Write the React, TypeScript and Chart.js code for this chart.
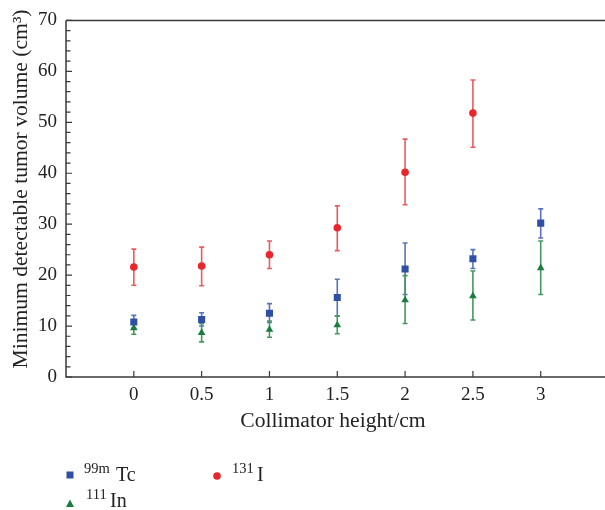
import React, { useEffect, useRef } from "react";
import { Chart, registerables } from "chart.js";

Chart.register(...registerables);

const heights = [0, 0.5, 1, 1.5, 2, 2.5, 3];
const xTickValues = [0, 0.5, 1, 1.5, 2, 2.5, 3];
const yTickValues = [0, 10, 20, 30, 40, 50, 60, 70];
const yTitle = "Minimum detectable tumor volume (cm³)";
const xTitle = "Collimator height/cm";

const tcMean = [10.8, 11.3, 12.5, 15.6, 21.2, 23.2, 30.2];
const tcLow = [9.6, 10.0, 10.7, 12.0, 16.2, 21.3, 27.3];
const tcHigh = [12.1, 12.6, 14.4, 19.2, 26.3, 25.0, 33.0];

const iMean = [21.6, 21.8, 24.0, 29.3, 40.2, 51.8];
const iLow = [18.0, 17.9, 21.3, 24.8, 33.8, 45.1];
const iHigh = [25.1, 25.5, 26.7, 33.6, 46.7, 58.3];

const inMean = [9.6, 8.7, 9.3, 10.2, 15.1, 15.9, 21.4];
const inLow = [8.4, 6.9, 7.8, 8.5, 10.5, 11.2, 16.2];
const inHigh = [10.6, 10.5, 11.0, 12.0, 19.9, 20.8, 26.7];

const BLUE = "#2e4fa3";
const BLUE_BAR = "#5a74bb";
const RED = "#e8262b";
const RED_BAR = "#ee5a5e";
const GREEN = "#1b7c3d";
const GREEN_BAR = "#45995f";
const AXIS = "#3a3a3a";
const FONT = "'Liberation Serif', 'DejaVu Serif', serif";

const errLows = [tcLow, iLow, inLow];
const errHighs = [tcHigh, iHigh, inHigh];
const errColors = [BLUE_BAR, RED_BAR, GREEN_BAR];

const toPoints = (ys: number[]) => ys.map((y, i) => ({ x: heights[i], y }));

const errorBarPlugin = {
  id: "errorBars",
  beforeDatasetsDraw(chart: any) {
    const ctx = chart.ctx;
    const yScale = chart.scales.y;
    ctx.save();
    chart.data.datasets.forEach((ds: any, di: number) => {
      const meta = chart.getDatasetMeta(di);
      const lows = errLows[di];
      const highs = errHighs[di];
      ctx.strokeStyle = errColors[di];
      ctx.lineWidth = 1.6;
      meta.data.forEach((pt: any, j: number) => {
        if (lows[j] == null) return;
        const x = pt.x;
        const yl = yScale.getPixelForValue(lows[j]);
        const yh = yScale.getPixelForValue(highs[j]);
        ctx.beginPath();
        ctx.moveTo(x, yl);
        ctx.lineTo(x, yh);
        ctx.moveTo(x - 2.5, yl);
        ctx.lineTo(x + 2.5, yl);
        ctx.moveTo(x - 2.5, yh);
        ctx.lineTo(x + 2.5, yh);
        ctx.stroke();
      });
    });
    ctx.restore();
  },
};

const framePlugin = {
  id: "frame",
  afterDraw(chart: any) {
    const ctx = chart.ctx;
    const { left, top, bottom } = chart.chartArea;
    const right = chart.width;
    const xs = chart.scales.x;
    const ys = chart.scales.y;
    ctx.save();
    ctx.strokeStyle = AXIS;
    ctx.lineWidth = 1.5;
    ctx.beginPath();
    ctx.moveTo(left, top);
    ctx.lineTo(right, top);
    ctx.moveTo(left, top);
    ctx.lineTo(left, bottom);
    ctx.lineTo(right, bottom);
    ctx.stroke();
    ctx.lineWidth = 1.2;
    ctx.beginPath();
    for (let v = 0; v <= 70; v += 2) {
      const y = ys.getPixelForValue(v);
      const len = v % 10 === 0 ? 6 : 4.5;
      ctx.moveTo(left, y);
      ctx.lineTo(left + len, y);
    }
    xTickValues.forEach((v) => {
      const x = xs.getPixelForValue(v);
      ctx.moveTo(x, bottom);
      ctx.lineTo(x, bottom - 6);
    });
    ctx.stroke();
    // y axis title
    ctx.fillStyle = "#222";
    ctx.font = `21.6px ${FONT}`;
    ctx.textAlign = "center";
    ctx.textBaseline = "middle";
    ctx.translate(21, 189);
    ctx.rotate(-Math.PI / 2);
    ctx.fillText(yTitle, 0, 0);
    ctx.restore();
  },
};

const legendPlugin = {
  id: "customLegend",
  afterDraw(chart: any) {
    const ctx = chart.ctx;
    ctx.save();
    ctx.fillStyle = BLUE;
    ctx.fillRect(66.5, 471.5, 7, 7);
    ctx.fillStyle = RED;
    ctx.beginPath();
    ctx.arc(217, 476, 3.8, 0, Math.PI * 2);
    ctx.fill();
    ctx.fillStyle = GREEN;
    ctx.beginPath();
    ctx.moveTo(70, 499.5);
    ctx.lineTo(74, 507);
    ctx.lineTo(66, 507);
    ctx.closePath();
    ctx.fill();
    ctx.fillStyle = "#222";
    ctx.textBaseline = "alphabetic";
    ctx.textAlign = "left";
    const sup = `14.5px ${FONT}`;
    const main = `20px ${FONT}`;
    ctx.font = sup;
    ctx.fillText("99m", 84, 473);
    ctx.fillText("131", 232, 473);
    ctx.fillText("111", 86, 499);
    ctx.font = main;
    ctx.fillText("Tc", 116, 481);
    ctx.fillText("I", 257, 481);
    ctx.fillText("In", 110, 507);
    ctx.restore();
  },
};

export default function App() {
  const ref = useRef<HTMLCanvasElement | null>(null);
  useEffect(() => {
    if (!ref.current) return;
    const chart = new Chart(ref.current, {
      type: "scatter",
      data: {
        datasets: [
          {
            label: "99mTc",
            data: toPoints(tcMean),
            pointStyle: "rect",
            pointRadius: 5,
            backgroundColor: BLUE,
            borderColor: BLUE,
            borderWidth: 0,
          },
          {
            label: "131I",
            data: toPoints(iMean),
            pointStyle: "circle",
            pointRadius: 3.8,
            backgroundColor: RED,
            borderColor: RED,
            borderWidth: 0,
          },
          {
            label: "111In",
            data: toPoints(inMean),
            pointStyle: "triangle",
            pointRadius: 4.4,
            backgroundColor: GREEN,
            borderColor: GREEN,
            borderWidth: 0,
          },
        ],
      },
      options: {
        animation: false,
        responsive: false,
        maintainAspectRatio: false,
        layout: { padding: { top: 15, right: 0, left: 0, bottom: 0 } },
        plugins: {
          legend: { display: false },
          tooltip: { enabled: false },
        },
        scales: {
          x: {
            type: "linear",
            min: -0.5,
            max: 3.437,
            grid: { display: false, drawTicks: false },
            border: { display: false },
            afterBuildTicks: (scale: any) => {
              scale.ticks = xTickValues.map((v) => ({ value: v }));
            },
            afterFit: (scale: any) => {
              scale.height = 133;
            },
            ticks: {
              color: "#222",
              font: { family: FONT, size: 19 },
              padding: 7,
              maxRotation: 0,
              autoSkip: false,
              callback: (v: any) => String(v),
            },
            title: {
              display: true,
              text: xTitle,
              color: "#222",
              font: { family: FONT, size: 21.6 },
              padding: { top: 0, bottom: 76 },
            },
          },
          y: {
            min: 0,
            max: 70,
            grid: { display: false, drawTicks: false },
            border: { display: false },
            afterBuildTicks: (scale: any) => {
              scale.ticks = yTickValues.map((v) => ({ value: v }));
            },
            afterFit: (scale: any) => {
              scale.width = 66;
            },
            ticks: {
              color: "#222",
              font: { family: FONT, size: 19 },
              padding: 9,
            },
          },
        },
      },
      plugins: [errorBarPlugin, framePlugin, legendPlugin],
    });
    return () => chart.destroy();
  }, []);
  return (
    <div style={{ position: "fixed", left: 0, top: 0, width: 605, height: 510, background: "#fff" }}>
      <canvas ref={ref} width={605} height={510} style={{ display: "block" }} />
    </div>
  );
}
